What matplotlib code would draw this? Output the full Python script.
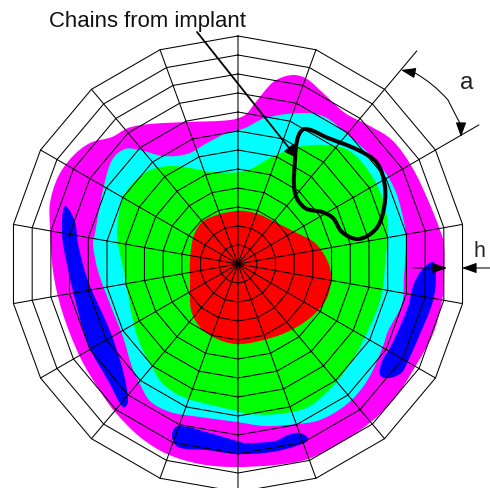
import numpy as np
from matplotlib import pyplot as plt
from matplotlib.path import Path
from matplotlib.patches import PathPatch

center_x = 238
center_y = 264
spoke_angles = [90 - 20 * i for i in range(18)]
ring_radii = [19, 38, 57, 76, 95, 114, 133, 152, 171, 190, 209, 228]
extended_angles = [50, 30]
extended_radius = 278

# contours, pixel coordinates
magenta_x = [295, 307, 322, 345, 368, 392, 412, 428, 440, 444, 444, 442, 433, 418, 395, 372, 342, 308, 275, 233, 200, 167, 140, 115, 100, 80, 62, 53, 50, 50, 58, 72, 90, 112, 128, 150, 187, 230, 245, 255, 272, 283]
magenta_y = [75, 79, 92, 113, 125, 140, 167, 200, 230, 244, 277, 301, 334, 362, 398, 421, 442, 459, 465, 467, 464, 454, 437, 412, 391, 357, 311, 271, 227, 203, 177, 157, 143, 137, 128, 124, 122, 120, 115, 103, 83, 77]
cyan_x = [302, 325, 348, 378, 395, 405, 406, 404, 402, 388, 382, 367, 347, 320, 297, 265, 237, 200, 170, 150, 140, 132, 123, 110, 98, 93, 95, 103, 112, 125, 140, 163, 187, 207, 227, 245, 265]
cyan_y = [113, 117, 135, 163, 190, 227, 244, 277, 304, 331, 349, 381, 404, 420, 424, 426, 422, 417, 412, 401, 384, 367, 337, 304, 271, 244, 233, 190, 160, 149, 150, 156, 154, 143, 133, 128, 118]
green_x = [245, 272, 298, 325, 348, 368, 382, 388, 385, 383, 378, 363, 348, 333, 308, 278, 248, 237, 207, 183, 163, 152, 140, 133, 125, 118, 117, 122, 133, 150, 170, 190, 213]
green_y = [171, 157, 147, 145, 150, 170, 197, 227, 264, 287, 307, 341, 367, 386, 407, 414, 414, 411, 404, 397, 384, 367, 344, 321, 277, 244, 230, 200, 183, 170, 166, 168, 172]
red_x = [235, 255, 275, 295, 315, 328, 331, 326, 310, 285, 255, 235, 215, 200, 191, 190, 190, 194, 205]
red_y = [211, 213, 222, 232, 243, 262, 280, 300, 318, 333, 342, 344, 338, 327, 310, 280, 260, 235, 220]
blue_left_x = [66, 75, 78, 88, 110, 123, 128, 123, 110, 88, 72, 63, 62, 63]
blue_left_y = [206, 222, 244, 281, 331, 371, 402, 407, 384, 344, 287, 244, 230, 210]
blue_bottom_x = [178, 172, 178, 207, 237, 272, 302, 308, 300, 288, 275, 245, 237, 213]
blue_bottom_y = [426, 435, 447, 450, 454, 452, 444, 439, 433, 435, 441, 443, 441, 434]
blue_right_x = [432, 436, 433, 420, 408, 400, 382, 381, 392, 408, 415]
blue_right_y = [262, 274, 301, 334, 361, 374, 377, 364, 344, 307, 281]
chain_x = [305, 328, 358, 377, 385, 383, 375, 358, 342, 333, 322, 305, 295, 295, 298]
chain_y = [129, 138, 150, 163, 187, 213, 230, 239, 232, 218, 212, 208, 193, 160, 137]
arc_x = [415, 433, 448, 458, 461]
arc_y = [73, 83, 100, 120, 125]


def smooth_path(xs, ys):
    pts = np.column_stack([xs, ys]).astype(float)
    n = len(pts)
    verts = [pts[0]]
    codes = [Path.MOVETO]
    for i in range(n):
        p0, p1, p2, p3 = pts[i - 1], pts[i], pts[(i + 1) % n], pts[(i + 2) % n]
        seg = np.hypot(*(p2 - p1))
        t1 = (p2 - p0) / np.hypot(*(p2 - p0))
        t2 = (p3 - p1) / np.hypot(*(p3 - p1))
        verts += [p1 + t1 * seg / 3, p2 - t2 * seg / 3, p2]
        codes += [Path.CURVE4] * 3
    return Path(verts, codes)


def polar(angle, radius):
    a = np.radians(angle)
    return center_x + radius * np.cos(a), center_y - radius * np.sin(a)


fig = plt.figure(figsize=(4.9, 4.88), dpi=100)
ax = fig.add_axes([0, 0, 1, 1])
ax.set_xlim(0, 490)
ax.set_ylim(488, 0)
ax.axis('off')

fills = [
    (magenta_x, magenta_y, '#ff00ff'),
    (cyan_x, cyan_y, '#00ffff'),
    (green_x, green_y, '#00ff00'),
    (red_x, red_y, '#ff0000'),
    (blue_left_x, blue_left_y, '#0000ff'),
    (blue_bottom_x, blue_bottom_y, '#0000ff'),
    (blue_right_x, blue_right_y, '#0000ff'),
]
for xs, ys, color in fills:
    ax.add_patch(PathPatch(smooth_path(xs, ys), facecolor=color, edgecolor='none', zorder=1))

# mesh
mesh_lw = 0.75
for angle in spoke_angles:
    x, y = polar(angle, ring_radii[-1])
    ax.plot([center_x, x], [center_y, y], color='black', lw=mesh_lw, zorder=2, snap=False)
for r in ring_radii:
    x, y = polar(np.array(spoke_angles + spoke_angles[:1]), r)
    ax.plot(x, y, color='black', lw=mesh_lw, zorder=2, snap=False)

# extended spokes and the angle a
for angle in extended_angles:
    x0, y0 = polar(angle, ring_radii[-1])
    x1, y1 = polar(angle, extended_radius)
    ax.plot([x0, x1], [y0, y1], color='black', lw=mesh_lw, zorder=2, snap=False)
arc_path = Path(np.column_stack([arc_x, arc_y]), [Path.MOVETO] + [Path.CURVE3] * 4)
ax.add_patch(PathPatch(arc_path, facecolor='none', edgecolor='black', lw=mesh_lw, zorder=3))
head = dict(arrowstyle='-|>,head_length=0.9,head_width=0.32', color='black', lw=mesh_lw, shrinkA=0, shrinkB=0, mutation_scale=10)
ax.annotate('', xy=(401, 70), xytext=(arc_x[0], arc_y[0]), arrowprops=head, zorder=3)
ax.annotate('', xy=(461, 137), xytext=(arc_x[-1], arc_y[-1]), arrowprops=head, zorder=3)

# thickness h
ax.annotate('', xy=(447, 268), xytext=(413, 268), arrowprops=head, zorder=3)
ax.annotate('', xy=(462, 268), xytext=(490, 268), arrowprops=head, zorder=3)

# implant chains
ax.add_patch(PathPatch(smooth_path(chain_x, chain_y), facecolor='none', edgecolor='black', lw=2.9, zorder=4))
pointer = dict(arrowstyle='-|>,head_length=0.75,head_width=0.36', color='black', lw=1.3, shrinkA=0, shrinkB=0, mutation_scale=10)
ax.annotate('', xy=(297, 158), xytext=(197, 32), arrowprops=pointer, zorder=4)

font = 'Liberation Sans'
ax.text(49, 27.5, 'Chains from implant', family=font, fontsize=15.9, color='#111111', zorder=5)
ax.text(460, 89, 'a', family=font, fontsize=17.5, color='#222222', zorder=5)
ax.text(473, 257, 'h', family=font, fontsize=15.5, color='#222222', zorder=5)

fig.savefig('out.png', dpi=100)
